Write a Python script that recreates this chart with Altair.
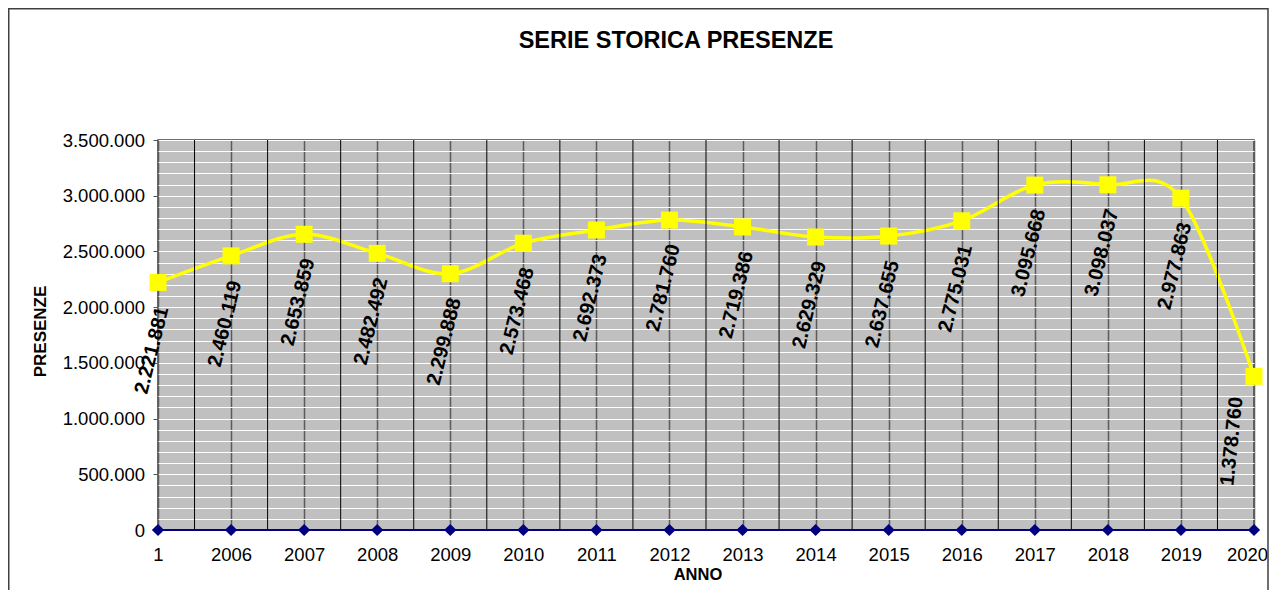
import json
import altair as alt
import pandas as pd

# ---- data ----
categories = ["1", "2006", "2007", "2008", "2009", "2010", "2011", "2012",
              "2013", "2014", "2015", "2016", "2017", "2018", "2019", "2020"]
presenze = [2221881, 2460119, 2653859, 2482492, 2299888, 2573468, 2692373, 2781760,
            2719386, 2629329, 2637655, 2775031, 3095668, 3098037, 2977863, 1378760]
zero_series = [0, 0, 0, 0, 0, 0, 0, 0, 0, 0, 0, 0, 0, 0, 0, 0]

chart_title = "SERIE STORICA PRESENZE"
x_title = "ANNO"
y_title = "PRESENZE"
y_max = 3500000
y_label_step = 500000
y_minor_step = 100000

FONT = "Liberation Sans"

df = pd.DataFrame({
    "idx": list(range(len(categories))),
    "anno": categories,
    "presenze": presenze,
    "zero": zero_series,
})
last = len(categories) - 1


def it_fmt(v):
    return f"replace(format({v}, ','), regexp(',', 'g'), '.')"


x_scale = alt.Scale(domain=[0, last], nice=False, zero=False)
y_scale = alt.Scale(domain=[0, y_max], nice=False)

x_axis = alt.Axis(
    values=list(range(len(categories))),
    labelExpr=f"{json.dumps(categories)}[datum.value]",
    grid=True, gridColor="#5a5a5a", gridWidth=1.5,
    ticks=False, tickSize=0, domain=False,
    labelFont=FONT, labelFontSize=18.5, labelColor="black",
    labelPadding=15.5, labelOverlap=False, labelFlush=False, labelBound=False,
    labelOffset={"condition": {"test": f"datum.value == {last}", "value": -7}, "value": 0},
    title=x_title, titleFont=FONT, titleFontSize=16.5, titleFontWeight="bold",
    titleColor="black", titleX=539.5, titleY=49, titleBaseline="alphabetic",
    titleAlign="center",
)

y_axis = alt.Axis(
    values=list(range(0, y_max + 1, y_minor_step)),
    labelExpr=f"datum.value % {y_label_step} == 0 ? {it_fmt('datum.value')} : ''",
    grid=True, gridColor="white", gridWidth=1,
    tickSize=5, tickColor="#555555", tickWidth=1,
    tickOpacity={"condition": {"test": f"datum.value % {y_label_step} != 0", "value": 0}, "value": 1},
    domain=False,
    labelFont=FONT, labelFontSize=18.5, labelColor="black",
    labelPadding=8.5, labelOverlap=False, labelFlush=False,
    title=y_title, titleFont=FONT, titleFontSize=17, titleFontWeight="bold",
    titleColor="black", titleX=-113, titleY=191, titleAngle=270,
    titleBaseline="alphabetic", titleAlign="center",
)


def X(field):
    return alt.X(field, scale=x_scale, axis=x_axis)


def Y(field):
    return alt.Y(field, scale=y_scale, axis=y_axis)


base = alt.Chart(df)

frame = alt.Chart(alt.Data(values=[{"f": 1}])).mark_rect(
    filled=False, stroke="#404040", strokeWidth=1.5
).encode(
    x=alt.value(-149.25), x2=alt.value(1110),
    y=alt.value(-131.25), y2=alt.value(530),
)

title = alt.Chart(alt.Data(values=[{"t": chart_title}])).mark_text(
    font=FONT, fontSize=23.5, fontWeight="bold", color="black",
    align="center", baseline="alphabetic",
).encode(text="t:N", x=alt.value(518), y=alt.value(-92))

line = base.mark_line(color="#FFFF00", strokeWidth=3.5, interpolate="cardinal").encode(
    x=X("idx:Q"), y=Y("presenze:Q"),
)

midlines = base.transform_filter(f"datum.idx < {last}").transform_calculate(
    mid="datum.idx + 0.5"
).mark_rule(color="black", strokeWidth=1).encode(
    x=X("mid:Q"), y=alt.value(0), y2=alt.value(390)
)

zero_line = base.mark_line(color="#000080", strokeWidth=2).encode(
    x=X("idx:Q"), y=Y("zero:Q"),
)

squares = base.mark_point(shape="square", filled=True, size=289, color="#FFFF00", opacity=1).encode(
    x=X("idx:Q"), y=Y("presenze:Q"),
)

diamonds = base.mark_point(shape="diamond", filled=True, size=150, color="#000080", opacity=1).encode(
    x=X("idx:Q"), y=Y("zero:Q"),
)

labels = base.transform_calculate(lab=it_fmt("datum.presenze")).mark_text(
    font=FONT, fontSize=20, fontWeight="bold", color="black", align="center", baseline="middle",
    angle=alt.ExprRef(f"datum.idx == {last} ? 276 : 284"),
    dx=alt.ExprRef(f"datum.idx == {last} ? -66.9 : -67.4"),
    dy=alt.ExprRef(f"datum.idx == {last} ? -15.1 : 10.6"),
).encode(
    x=X("idx:Q"), y=Y("presenze:Q"),
    text="lab:N",
)

chart = alt.layer(
    line, frame, title, midlines, zero_line, squares, diamonds, labels
).properties(
    width=1096, height=390,
    autosize=alt.AutoSizeParams(type="none"),
    padding={"left": 150, "top": 132, "right": 16, "bottom": 60},
    background="white",
).configure_view(
    fill="#C0C0C0", stroke="#404040", strokeWidth=1.5
)

chart.save("out.html", embed_options={"renderer": "svg", "actions": False})
